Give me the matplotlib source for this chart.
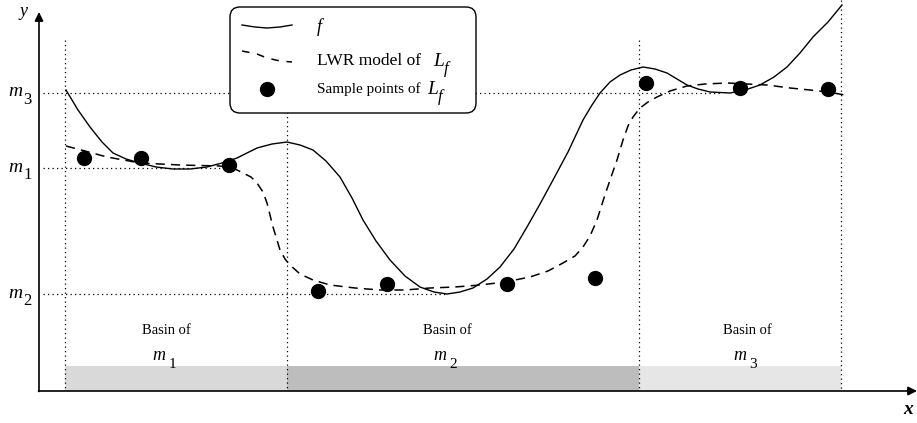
import matplotlib
matplotlib.use("Agg")
import matplotlib.pyplot as plt
from matplotlib.patches import FancyBboxPatch, Rectangle

# everything in pixel units (y grows downward)
f_x = [66, 78, 90, 102, 113, 126, 140, 156, 173, 190, 207, 222, 237, 257, 272, 287,
       300, 313, 326, 340, 352, 363, 376, 390, 405, 420, 434, 447, 460, 473, 487, 500,
       514, 527, 540, 553, 568, 583, 592, 600, 610, 620, 631, 643, 655, 667, 677, 687,
       698, 710, 730, 745, 760, 774, 787, 800, 813, 828, 842]
f_y = [90, 110, 127, 142, 153, 159, 163, 167, 169, 169, 167, 163, 158, 148, 144, 142,
       145, 150, 161, 177, 198, 220, 241, 260, 276, 287, 292, 294, 292, 288, 279, 267,
       249, 227, 204, 180, 152, 120, 105, 93, 82, 75, 70, 67, 69, 73, 79, 85,
       89, 92, 93, 90, 85, 77, 67, 53, 37, 22, 5]

lwr_x = [66, 85, 107, 140, 180, 220, 235, 243, 251, 257, 263, 267, 270, 273, 277, 280,
         285, 290, 300, 313, 330, 355, 380, 405, 430, 455, 480, 505, 530, 548, 563, 575,
         583, 590, 597, 603, 610, 617, 623, 628, 633, 640, 648, 657, 670, 687, 705, 727,
         747, 767, 790, 810, 828, 845]
lwr_y = [146, 151, 157, 163, 165, 166, 169, 173, 177, 183, 192, 203, 215, 227, 240, 250,
         259, 265, 274, 280, 285, 288, 290, 290, 288, 287, 285, 282, 277, 271, 263, 256,
         247, 236, 220, 201, 180, 160, 140, 126, 117, 108, 102, 97, 91, 86, 84, 83,
         84, 85, 88, 90, 92, 95]

sample_x = [84, 141, 229, 318, 387, 507, 595, 646, 740, 828]
sample_y = [158, 158, 165, 291, 284, 284, 278, 83, 88, 89]

# minima levels and where their guide lines stop
minima = ["1", "2", "3"]
min_level = [168, 294, 93]
min_guide_end = [236, 446, 720]

# basin borders and shades
basin_edges = [65, 287, 639, 841]
basin_colors = ["#d9d9d9", "#bdbdbd", "#e6e6e6"]
basin_text_x = [166, 447, 747]

serif = "Liberation Serif"

fig = plt.figure(figsize=(9.17, 4.23), dpi=100)
ax = fig.add_axes([0, 0, 1, 1])
ax.set_xlim(0, 917)
ax.set_ylim(423, 0)
ax.axis("off")

y_axis, x_axis = 39, 391
bar_top = 366

# basin bars
for i in range(3):
    ax.add_patch(Rectangle((basin_edges[i], bar_top), basin_edges[i + 1] - basin_edges[i],
                           x_axis - bar_top, facecolor=basin_colors[i], edgecolor="none", zorder=1))

# dotted guides
dot = dict(color="black", lw=0.9, dashes=(1, 2.6), zorder=2)
for i, xe in enumerate(basin_edges):
    top = 0 if i == len(basin_edges) - 1 else 40
    ax.plot([xe, xe], [top, x_axis], **dot)
for lev, end in zip(min_level, min_guide_end):
    ax.plot([y_axis + 4, end], [lev, lev], **dot)

# axes with arrows
ax.annotate("", xy=(y_axis, 12), xytext=(y_axis, x_axis + 0.5),
            arrowprops=dict(arrowstyle="-|>", lw=1.2, color="black", mutation_scale=13,
                            shrinkA=0, shrinkB=0), zorder=5)
ax.annotate("", xy=(917, x_axis), xytext=(y_axis - 0.5, x_axis),
            arrowprops=dict(arrowstyle="-|>", lw=1.2, color="black", mutation_scale=13,
                            shrinkA=0, shrinkB=0), zorder=5)
ax.text(23, 11, "y", family=serif, style="italic", fontsize=13, ha="center", va="center")
ax.text(908, 410, "x", family=serif, style="italic", weight="bold", fontsize=14,
        ha="center", va="center")

# m labels on the y axis
for name, lev in zip(minima, min_level):
    ax.text(8, lev - 1, "m", family=serif, style="italic", fontsize=14, ha="left", va="center")
    ax.text(23, lev + 7, name, family=serif, fontsize=12, ha="left", va="center")

# curves and samples
ax.plot(f_x, f_y, color="black", lw=1.0, zorder=3)
ax.plot(lwr_x, lwr_y, color="black", lw=1.1, dashes=(6, 4), zorder=3)
ax.plot(sample_x, sample_y, "o", color="black", ms=10, zorder=4)

# basin captions
for name, cx in zip(minima, basin_text_x):
    ax.text(cx, 331, "Basin of", family=serif, fontsize=10.5, ha="center", va="center")
    ax.text(cx - 7, 356, "m", family=serif, style="italic", fontsize=13, ha="center", va="center")
    ax.text(cx + 6, 364, name, family=serif, fontsize=11, ha="center", va="center")

# legend box
ax.add_patch(FancyBboxPatch((230, 7), 246, 106, boxstyle="round,pad=0,rounding_size=10",
                            facecolor="white", edgecolor="black", lw=1.0, zorder=6))
ax.plot([242, 255, 267, 280, 292], [25, 27, 28, 27, 25], color="black", lw=1.0, zorder=7)
ax.plot([242, 257, 267, 280, 292], [51, 54, 58, 61, 62], color="black", lw=1.1,
        dashes=(5, 5), zorder=7)
ax.plot([267], [89], "o", color="black", ms=10, zorder=7)
ax.text(317, 27, "f", family=serif, style="italic", fontsize=13, va="center", zorder=7)
ax.text(317, 61, "LWR model of", family=serif, fontsize=12.5, va="center", zorder=7)
ax.text(433, 61, "L", family=serif, style="italic", fontsize=14, va="center", zorder=7)
ax.text(444, 69, "f", family=serif, style="italic", fontsize=12, va="center", zorder=7)
ax.text(317, 89, "Sample points of", family=serif, fontsize=11, va="center", zorder=7)
ax.text(427, 89, "L", family=serif, style="italic", fontsize=14, va="center", zorder=7)
ax.text(438, 97, "f", family=serif, style="italic", fontsize=12, va="center", zorder=7)

fig.savefig("out.png", dpi=100)
